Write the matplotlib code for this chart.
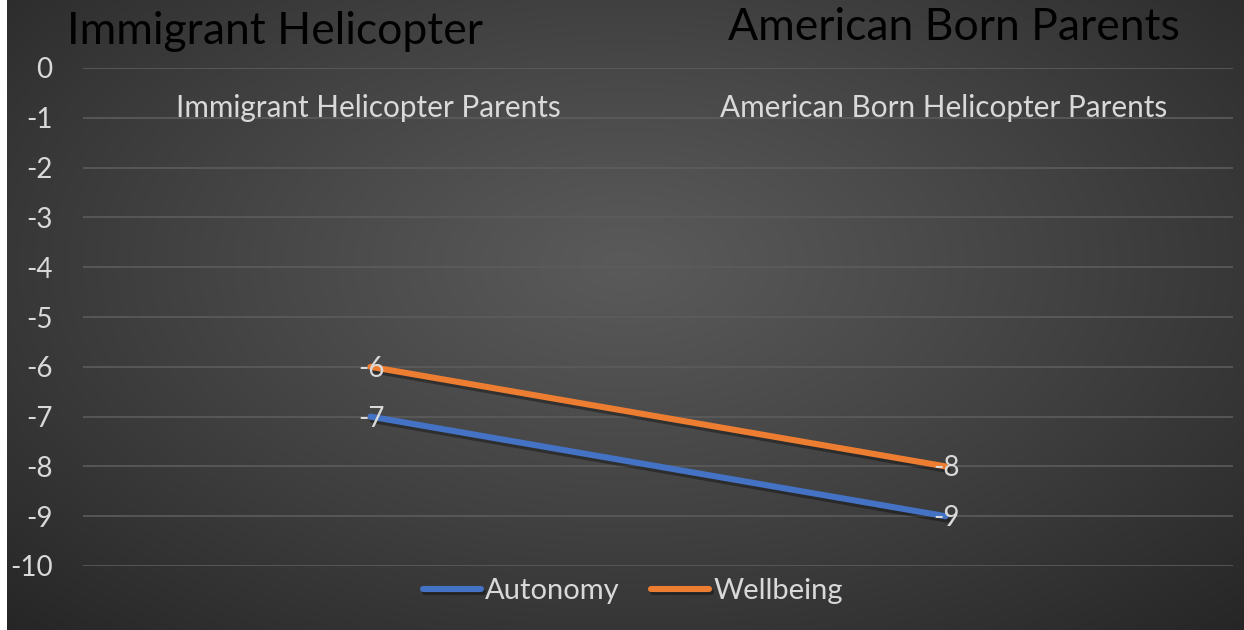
import numpy as np
import matplotlib
matplotlib.use('Agg')
import matplotlib.pyplot as plt
import matplotlib.patheffects as pe

# Chart data
categories = ['Immigrant Helicopter Parents', 'American Born Helicopter Parents']
autonomy = [-7, -9]
wellbeing = [-6, -8]
y_ticks = list(range(0, -11, -1))

FONT = 'Lato'
TEXT = '#d9d9d9'
BLUE = '#4472C4'
ORANGE = '#ED7D31'

W, H = 1244, 630
fig = plt.figure(figsize=(W / 100, H / 100), dpi=100)
fig.patch.set_facecolor('white')

# Radial gradient background (leaves a thin white strip on the left)
bg = fig.add_axes([7 / W, 0, 1 - 7 / W, 1])
bg.set_axis_off()
yy, xx = np.mgrid[0:1:300j, 0:1:600j]
r = np.sqrt(((xx - 0.5) * 1.0) ** 2 + ((yy - 0.42) * 0.9) ** 2)
r = r / r.max()
shade = 0x5a - (0x5a - 0x26) * np.clip(r, 0, 1) ** 1.1
img = np.dstack([shade, shade, shade]) / 255.0
bg.imshow(img, aspect='auto', extent=[0, 1, 1, 0], interpolation='bilinear')

ax = fig.add_axes([83 / W, 64 / H, 1150 / W, 498 / H])
ax.patch.set_alpha(0)
ax.set_xlim(0, 2)
ax.set_ylim(-10, 0)
ax.set_yticks(y_ticks)
ax.set_yticklabels([str(t) for t in y_ticks], fontsize=20, color=TEXT,
                   family=FONT)
ax.tick_params(axis='y', length=0, pad=22)
ax.set_xticks([])
for s in ax.spines.values():
    s.set_visible(False)
ax.yaxis.grid(True, color='#5c5c5c', linewidth=1.2)
ax.set_axisbelow(True)

x = np.array([0.5, 1.5])
shadow = [pe.SimpleLineShadow(offset=(1.5, -2.5), shadow_color='black',
                              alpha=0.35), pe.Normal()]
ax.plot(x, autonomy, color=BLUE, lw=4.4, solid_capstyle='round',
        label='Autonomy', path_effects=shadow, clip_on=False)
ax.plot(x, wellbeing, color=ORANGE, lw=4.4, solid_capstyle='round',
        label='Wellbeing', path_effects=shadow, clip_on=False)

for series in (autonomy, wellbeing):
    for xi, v in zip(x, series):
        ax.text(xi + 0.002, v - 0.04, str(v), ha='center', va='center',
                fontsize=20, color=TEXT, family=FONT)

# Category labels sit just under the zero line
for xi, c in zip(x, categories):
    ax.text(xi - 0.004, -0.8, c, ha='center', va='center', fontsize=21.4,
            color=TEXT, family=FONT)

leg = ax.legend(loc='center', bbox_to_anchor=(0.478, -0.05), ncol=2,
                frameon=False, fontsize=21, handlelength=2.0,
                handletextpad=0.15, columnspacing=1.05)
for t in leg.get_texts():
    t.set_color(TEXT)
    t.set_family(FONT)

# Text boxes on top
fig.text(67 / W, 1 - 31 / H, 'Immigrant Helicopter', fontsize=32,
         color='black', family=FONT, va='center', ha='left')
fig.text(1180 / W, 1 - 27 / H, 'American Born Parents', fontsize=32,
         color='black', family=FONT, va='center', ha='right')

fig.savefig('out.png', dpi=100, facecolor=fig.get_facecolor())
